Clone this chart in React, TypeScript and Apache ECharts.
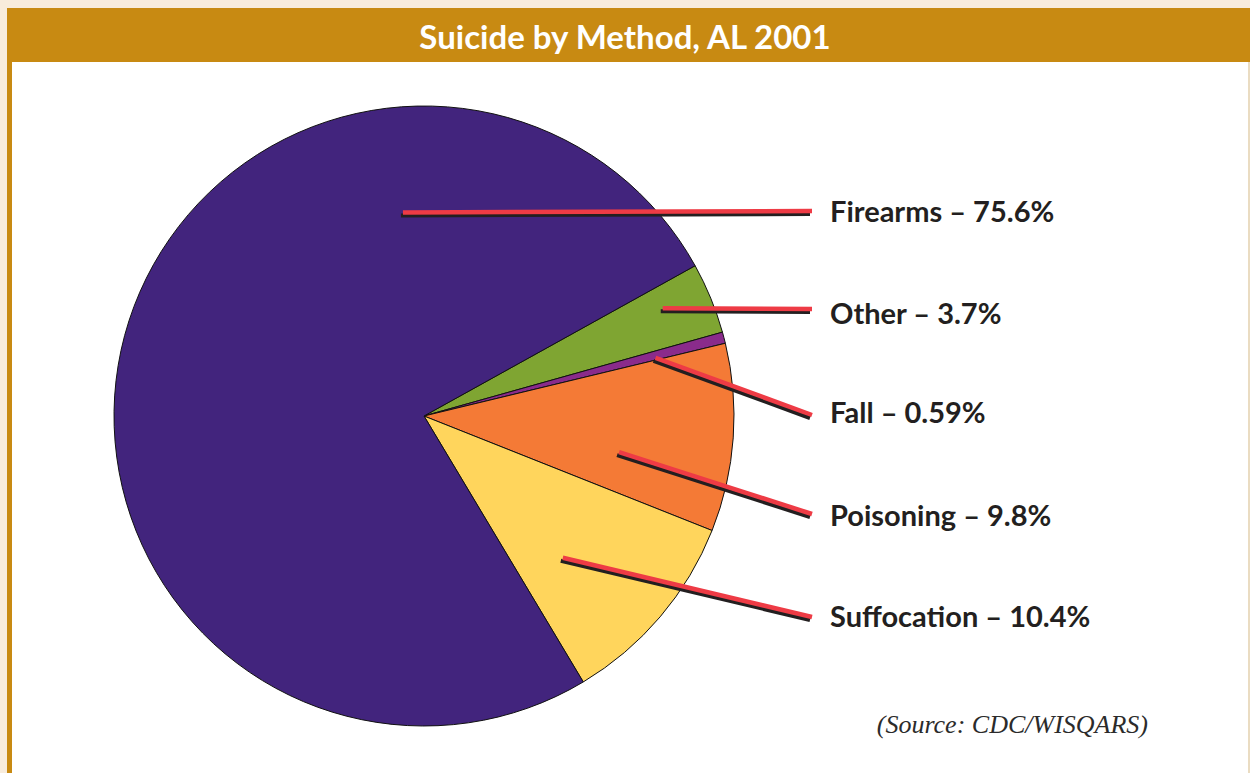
import React, { useEffect, useRef } from 'react';
import * as echarts from 'echarts';

// ---- data ----
const methods = ['Other', 'Fall', 'Poisoning', 'Suffocation', 'Firearms'];
const percents = [3.7, 0.59, 9.8, 10.4, 75.6];
const percentLabels = ['3.7%', '0.59%', '9.8%', '10.4%', '75.6%'];
const sliceColors = ['#7FA532', '#8A2B8B', '#F47A36', '#FFD55C', '#42247D'];

// ---- layout (label rows and callout anchors) ----
const W = 1250;
const H = 773;
const CX = 424;
const CY = 416;
const R = 310;
const LABEL_X = 830;
const LINE_END_X = 812;
const labelRowY = [312, 411, 514, 615, 210];
const lineEndY = [309, 415, 514, 617, 211];
const anchorAngle = [24.3, 14.1, -10.5, -45.6, 95.9];
const anchorRadius = [0.845, 0.77, 0.64, 0.64, 0.66];
const SHADOW_DX = -2;
const SHADOW_DY = 3;

export default function App() {
  const ref = useRef<HTMLDivElement>(null);

  useEffect(() => {
    if (!ref.current) return;
    const chart = echarts.init(ref.current, undefined, { renderer: 'svg' });

    const makeData = (transparent: boolean) =>
      methods.map((m, i) => ({
        name: m,
        value: percents[i],
        itemStyle: transparent
          ? { color: 'rgba(0,0,0,0)', borderWidth: 0 }
          : { color: sliceColors[i], borderColor: '#111111', borderWidth: 1 },
      }));

    const layoutFor = (dx: number, dy: number) => (p: any) => {
      const i = p.dataIndex;
      const a = (anchorAngle[i] * Math.PI) / 180;
      const r = anchorRadius[i] * R;
      const sx = CX + r * Math.cos(a) + dx;
      const sy = CY - r * Math.sin(a) + dy;
      const ex = LINE_END_X + dx;
      const ey = lineEndY[i] + dy;
      return {
        x: LABEL_X,
        y: labelRowY[i],
        align: 'left',
        verticalAlign: 'middle',
        labelLinePoints: [
          [sx, sy],
          [ex, ey],
          [ex, ey],
        ],
      };
    };

    const common = {
      type: 'pie',
      center: [CX, CY],
      radius: [0, R],
      startAngle: 29,
      clockwise: true,
      avoidLabelOverlap: false,
      silent: true,
      emphasis: { disabled: true },
    };

    chart.setOption({
      animation: false,
      backgroundColor: '#F8ECDC',
      title: {
        text: 'Suicide by Method, AL 2001',
        left: 'center',
        top: 19,
        padding: 0,
        textStyle: {
          color: '#FFFFFF',
          fontFamily: 'Lato',
          fontWeight: 'bold',
          fontSize: 33,
          lineHeight: 34,
        },
      },
      graphic: [
        { type: 'rect', z: -10, shape: { x: 7, y: 8, width: W - 7, height: 54 }, style: { fill: '#C88A12' } },
        { type: 'rect', z: -10, shape: { x: 7, y: 62, width: 5, height: H - 62 }, style: { fill: '#C88A12' } },
        { type: 'rect', z: -10, shape: { x: 12, y: 62, width: W - 14, height: H - 62 }, style: { fill: '#FFFFFF' } },
        { type: 'rect', z: -10, shape: { x: W - 2, y: 62, width: 2, height: H - 62 }, style: { fill: '#EADCC2' } },
        {
          type: 'text',
          x: 1148,
          y: 724,
          style: {
            text: '(Source: CDC/WISQARS)',
            fill: '#2B2B2B',
            font: 'italic 26px "Liberation Serif", serif',
            align: 'right',
            verticalAlign: 'middle',
          },
        },
      ],
      series: [
        {
          ...common,
          z: 1,
          label: { show: false },
          labelLine: { show: false },
          data: makeData(false),
        },
        {
          ...common,
          z: 2,
          label: {
            show: true,
            position: 'outside',
            formatter: ' ',
            fontSize: 10,
          },
          labelLine: {
            show: true,
            lineStyle: { color: '#231F20', width: 4, cap: 'butt' },
          },
          labelLayout: layoutFor(SHADOW_DX, SHADOW_DY),
          data: makeData(true),
        },
        {
          ...common,
          z: 3,
          label: {
            show: true,
            position: 'outside',
            formatter: (p: any) => `${methods[p.dataIndex]} – ${percentLabels[p.dataIndex]}`,
            color: '#231F20',
            fontFamily: 'Lato',
            fontWeight: 'bold',
            fontSize: 29,
          },
          labelLine: {
            show: true,
            lineStyle: { color: '#EE3B45', width: 4.5, cap: 'butt' },
          },
          labelLayout: layoutFor(0, 0),
          data: makeData(true),
        },
      ],
    });
    return () => chart.dispose();
  }, []);

  return <div ref={ref} style={{ position: 'absolute', left: 0, top: 0, width: W, height: H }} />;
}
